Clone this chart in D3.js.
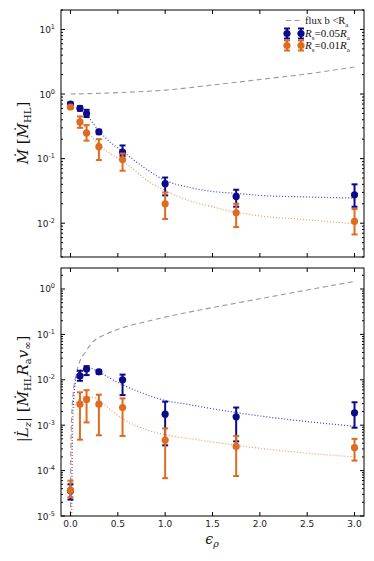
<!DOCTYPE html>
<html>
<head>
<meta charset="utf-8">
<script src="https://cdn.jsdelivr.net/npm/d3@7"></script>
<style>
  html, body { margin: 0; padding: 0; background: #fff; }
  svg { display: block; }
  .tick-label { font-family: "DejaVu Sans", sans-serif; font-size: 9px; fill: #222; }
  .serif { font-family: "DejaVu Serif", "Liberation Serif", serif; fill: #111; }
  .lserif { font-family: "Liberation Serif", serif; fill: #111; }
</style>
</head>
<body>
<svg id="chart" width="374" height="561"></svg>
<script>
// ---------------- data ----------------
const eps = [0.0, 0.1, 0.17, 0.3, 0.55, 1.0, 1.75, 3.0];

// top panel: accretion rate
const mBlue     = [0.70, 0.60, 0.50, 0.26, 0.126, 0.041, 0.026, 0.0275];
const mBlueLo   = [0.66, 0.55, 0.44, 0.24, 0.11, 0.027, 0.018, 0.018];
const mBlueHi   = [0.74, 0.65, 0.57, 0.28, 0.16, 0.051, 0.033, 0.040];
const mOrange   = [0.63, 0.37, 0.25, 0.153, 0.097, 0.020, 0.0145, 0.0107];
const mOrangeLo = [0.60, 0.30, 0.19, 0.095, 0.065, 0.0116, 0.0087, 0.0067];
const mOrangeHi = [0.66, 0.45, 0.33, 0.20, 0.12, 0.030, 0.020, 0.0166];

// top panel curves
const fluxTopX = [0.0, 0.5, 1.0, 1.5, 2.0, 2.5, 3.0];
const fluxTopY = [1.0, 1.05, 1.15, 1.38, 1.68, 2.05, 2.62];
const fitMBlueX = [0.17, 0.2, 0.3, 0.42, 0.55, 0.7, 1.0, 1.25, 1.5, 1.75, 2.0, 2.5, 3.0];
const fitMBlueY = [0.48, 0.42, 0.27, 0.18, 0.13, 0.088, 0.046, 0.036, 0.031, 0.029, 0.027, 0.0255, 0.0245];
const fitMOrangeX = [0.1, 0.17, 0.3, 0.42, 0.55, 0.7, 0.81, 1.0, 1.23, 1.5, 1.75, 2.0, 2.5, 3.0];
const fitMOrangeY = [0.42, 0.28, 0.165, 0.12, 0.092, 0.062, 0.046, 0.032, 0.023, 0.018, 0.0148, 0.013, 0.0113, 0.0098];

// bottom panel: angular momentum
const lBlue     = [3.6e-5, 0.0122, 0.0172, 0.015, 0.010, 0.00175, 0.00153, 0.00187];
const lBlueLo   = [2.3e-5, 0.0095, 0.0127, 0.0135, 0.0046, 3.6e-4, 4.4e-4, 8.8e-4];
const lBlueHi   = [5.0e-5, 0.0158, 0.020, 0.0165, 0.013, 0.0033, 0.00245, 0.0032];
const lOrange   = [3.7e-5, 0.0029, 0.0037, 0.0029, 0.00245, 4.7e-4, 3.4e-4, 3.2e-4];
const lOrangeLo = [2.6e-5, 4.8e-4, 0.00115, 6.0e-4, 5.8e-4, 6.8e-5, 7.6e-5, 1.66e-4];
const lOrangeHi = [6.0e-5, 0.0053, 0.0059, 0.0047, 0.0039, 8.5e-4, 5.8e-4, 5.0e-4];

// bottom panel curves
const fluxBotX = [0.0003, 0.001, 0.003, 0.01, 0.03, 0.06, 0.1, 0.155, 0.226, 0.37, 0.54, 0.84, 1.0, 1.5, 2.0, 2.5, 3.0];
const fluxBotY = [1e-5, 5e-5, 2.1e-4, 1.1e-3, 0.0053, 0.013, 0.026, 0.04, 0.065, 0.1, 0.138, 0.2, 0.24, 0.39, 0.61, 0.95, 1.47];
const fitLBlueX = [0.012, 0.02, 0.035, 0.067, 0.12, 0.19, 0.3, 0.37, 0.55, 0.74, 1.0, 1.23, 1.5, 1.75, 2.0, 2.5, 3.0];
const fitLBlueY = [1e-5, 5e-4, 0.004, 0.0123, 0.017, 0.0185, 0.015, 0.0123, 0.0078, 0.0053, 0.0035, 0.0029, 0.0023, 0.0019, 0.0016, 0.0012, 0.00095];
const fitLOrangeX = [0.008, 0.015, 0.04, 0.08, 0.15, 0.2, 0.31, 0.37, 0.42, 0.55, 0.81, 1.0, 1.37, 1.75, 2.43, 3.0];
const fitLOrangeY = [1e-5, 0.0012, 0.0025, 0.0035, 0.0042, 0.0042, 0.0035, 0.0027, 0.0022, 0.0014, 7.8e-4, 6.2e-4, 4.7e-4, 3.6e-4, 2.5e-4, 2.0e-4];

const xTicks = [0.0, 0.5, 1.0, 1.5, 2.0, 2.5, 3.0];
const yTicksTop = [-2, -1, 0, 1];
const yTicksBot = [-5, -4, -3, -2, -1, 0];

const BLUE = "#0b0b8a", ORANGE = "#dd6b20";
const BLUE_FIT = "#3a3ad6", ORANGE_FIT = "#f0995c", GREY = "#9a9a9a";

// ---------------- drawing ----------------
const svg = d3.select("#chart");
const L = 61, R = 364;
const x = d3.scaleLinear().domain([-0.1, 3.1]).range([L, R]);

function panel(top, bottom, yDomain, yTickExps, series, curves, showXLabels) {
  const y = d3.scaleLog().domain(yDomain).range([bottom, top]);
  const g = svg.append("g");
  const clipId = "clip" + Math.round(top);
  svg.append("clipPath").attr("id", clipId)
    .append("rect").attr("x", L).attr("y", top).attr("width", R - L).attr("height", bottom - top);
  const plot = g.append("g").attr("clip-path", `url(#${clipId})`);

  curves.forEach(c => {
    const pts = c.xs.map((v, i) => [v, c.ys[i]]);
    plot.append("path")
      .attr("d", d3.line().x(d => x(d[0])).y(d => y(d[1])).curve(d3.curveMonotoneX)(pts))
      .attr("fill", "none").attr("stroke", c.color).attr("stroke-width", c.w)
      .attr("stroke-dasharray", c.dash);
  });

  series.forEach(s => {
    const sg = plot.append("g");
    eps.forEach((e, i) => {
      const cx = x(e);
      sg.append("line").attr("x1", cx).attr("x2", cx)
        .attr("y1", y(s.lo[i])).attr("y2", y(s.hi[i]))
        .attr("stroke", s.color).attr("stroke-width", 2);
      [s.lo[i], s.hi[i]].forEach(v => {
        sg.append("line").attr("x1", cx - 3).attr("x2", cx + 3)
          .attr("y1", y(v)).attr("y2", y(v))
          .attr("stroke", s.color).attr("stroke-width", 2);
      });
      sg.append("circle").attr("cx", cx).attr("cy", y(s.v[i])).attr("r", 3.6)
        .attr("fill", s.color);
    });
  });

  g.append("rect").attr("x", L).attr("y", top).attr("width", R - L).attr("height", bottom - top)
    .attr("fill", "none").attr("stroke", "#000").attr("stroke-width", 1);

  xTicks.forEach(t => {
    const px = x(t);
    g.append("line").attr("x1", px).attr("x2", px).attr("y1", bottom).attr("y2", bottom - 4).attr("stroke", "#000");
    g.append("line").attr("x1", px).attr("x2", px).attr("y1", top).attr("y2", top + 4).attr("stroke", "#000");
    if (showXLabels) {
      g.append("text").attr("class", "tick-label").attr("x", px).attr("y", bottom + 11)
        .attr("text-anchor", "middle").text(d3.format(".1f")(t));
    }
  });

  const [lo, hi] = yDomain;
  const e0 = Math.floor(Math.log10(lo)), e1 = Math.ceil(Math.log10(hi));
  for (let e = e0; e <= e1; e++) {
    for (let k = 1; k <= 9; k++) {
      const v = k * Math.pow(10, e);
      if (v < lo * 0.999 || v > hi * 1.001) continue;
      const py = y(v), len = k === 1 ? 4 : 2;
      g.append("line").attr("x1", L).attr("x2", L + len).attr("y1", py).attr("y2", py).attr("stroke", "#000");
      g.append("line").attr("x1", R).attr("x2", R - len).attr("y1", py).attr("y2", py).attr("stroke", "#000");
    }
  }
  yTickExps.forEach(ex => {
    const t = g.append("text").attr("class", "tick-label").attr("x", L - 6).attr("y", y(Math.pow(10, ex)) + 3.5)
      .attr("text-anchor", "end");
    t.append("tspan").text("10");
    t.append("tspan").attr("dy", -4).attr("font-size", "6.5px").text(ex < 0 ? "-" + (-ex) : String(ex));
  });
  return y;
}

panel(10, 257, [0.003, 20], yTicksTop,
  [
    { v: mBlue, lo: mBlueLo, hi: mBlueHi, color: BLUE },
    { v: mOrange, lo: mOrangeLo, hi: mOrangeHi, color: ORANGE }
  ],
  [
    { xs: fluxTopX, ys: fluxTopY, color: GREY, w: 1.1, dash: "5,3.5" },
    { xs: fitMBlueX, ys: fitMBlueY, color: BLUE_FIT, w: 1.2, dash: "1,2" },
    { xs: fitMOrangeX, ys: fitMOrangeY, color: ORANGE_FIT, w: 1.2, dash: "1,2" }
  ], false);

panel(268, 516, [1e-5, 2.9], yTicksBot,
  [
    { v: lBlue, lo: lBlueLo, hi: lBlueHi, color: BLUE },
    { v: lOrange, lo: lOrangeLo, hi: lOrangeHi, color: ORANGE }
  ],
  [
    { xs: fluxBotX, ys: fluxBotY, color: GREY, w: 1.1, dash: "5,3.5" },
    { xs: fitLBlueX, ys: fitLBlueY, color: BLUE_FIT, w: 1.2, dash: "1,2" },
    { xs: fitLOrangeX, ys: fitLOrangeY, color: ORANGE_FIT, w: 1.2, dash: "1,2" }
  ], true);

// ---------------- legend ----------------
const lg = svg.append("g");
lg.append("line").attr("x1", 286).attr("x2", 301).attr("y1", 20.5).attr("y2", 20.5)
  .attr("stroke", GREY).attr("stroke-width", 1.1).attr("stroke-dasharray", "5,3.5");
const t1 = lg.append("text").attr("class", "lserif").attr("x", 305).attr("y", 24).attr("font-size", "10.5px");
t1.append("tspan").text("flux b <R");
t1.append("tspan").attr("dy", 2.5).attr("font-size", "7px").text("a");

[[BLUE, 33.5, "0.05"], [ORANGE, 45.5, "0.01"]].forEach(([c, yy, val]) => {
  [287, 301].forEach(xx => {
    lg.append("line").attr("x1", xx).attr("x2", xx).attr("y1", yy - 5).attr("y2", yy + 5).attr("stroke", c).attr("stroke-width", 2);
    lg.append("line").attr("x1", xx - 3).attr("x2", xx + 3).attr("y1", yy - 5).attr("y2", yy - 5).attr("stroke", c).attr("stroke-width", 2);
    lg.append("line").attr("x1", xx - 3).attr("x2", xx + 3).attr("y1", yy + 5).attr("y2", yy + 5).attr("stroke", c).attr("stroke-width", 2);
    lg.append("circle").attr("cx", xx).attr("cy", yy).attr("r", 3.6).attr("fill", c);
  });
  const t = lg.append("text").attr("class", "lserif").attr("x", 305).attr("y", yy + 3.5).attr("font-size", "11px");
  t.append("tspan").attr("font-style", "italic").text("R");
  t.append("tspan").attr("dy", 2.5).attr("font-size", "7px").text("s");
  t.append("tspan").attr("dy", -2.5).text("=" + val);
  t.append("tspan").attr("font-style", "italic").text("R");
  t.append("tspan").attr("dy", 2.5).attr("font-size", "7px").text("a");
});

// ---------------- axis labels ----------------
const yl1 = svg.append("text").attr("class", "serif").attr("font-size", "15px")
  .attr("text-anchor", "middle").attr("transform", "translate(28,133) rotate(-90)");
yl1.append("tspan").attr("font-style", "italic").text("M\u0307");
yl1.append("tspan").text(" [");
yl1.append("tspan").attr("font-style", "italic").text("M\u0307");
yl1.append("tspan").attr("dy", 3).attr("font-size", "10px").text("HL");
yl1.append("tspan").attr("dy", -3).text("]");

const yl2 = svg.append("text").attr("class", "serif").attr("font-size", "15px")
  .attr("text-anchor", "middle").attr("transform", "translate(28,389) rotate(-90)");
yl2.append("tspan").text("|");
yl2.append("tspan").attr("font-style", "italic").text("L\u0307");
yl2.append("tspan").attr("dy", 3).attr("font-size", "10px").attr("font-style", "italic").text("z");
yl2.append("tspan").attr("dy", -3).text("| [");
yl2.append("tspan").attr("font-style", "italic").text("M\u0307");
yl2.append("tspan").attr("dy", 3).attr("font-size", "10px").text("HL");
yl2.append("tspan").attr("dy", -3).attr("font-style", "italic").text("R");
yl2.append("tspan").attr("dy", 3).attr("font-size", "10px").text("a");
yl2.append("tspan").attr("dy", -3).attr("font-style", "italic").text("v");
yl2.append("tspan").attr("dy", 3).attr("font-size", "10px").text("∞");
yl2.append("tspan").attr("dy", -3).text("]");

const xl = svg.append("text").attr("class", "serif").attr("font-size", "14px")
  .attr("text-anchor", "middle").attr("x", 212).attr("y", 544);
xl.append("tspan").attr("font-style", "italic").text("ϵ");
xl.append("tspan").attr("dy", 3).attr("font-size", "9.5px").attr("font-style", "italic").text("ρ");
</script>
</body>
</html>
